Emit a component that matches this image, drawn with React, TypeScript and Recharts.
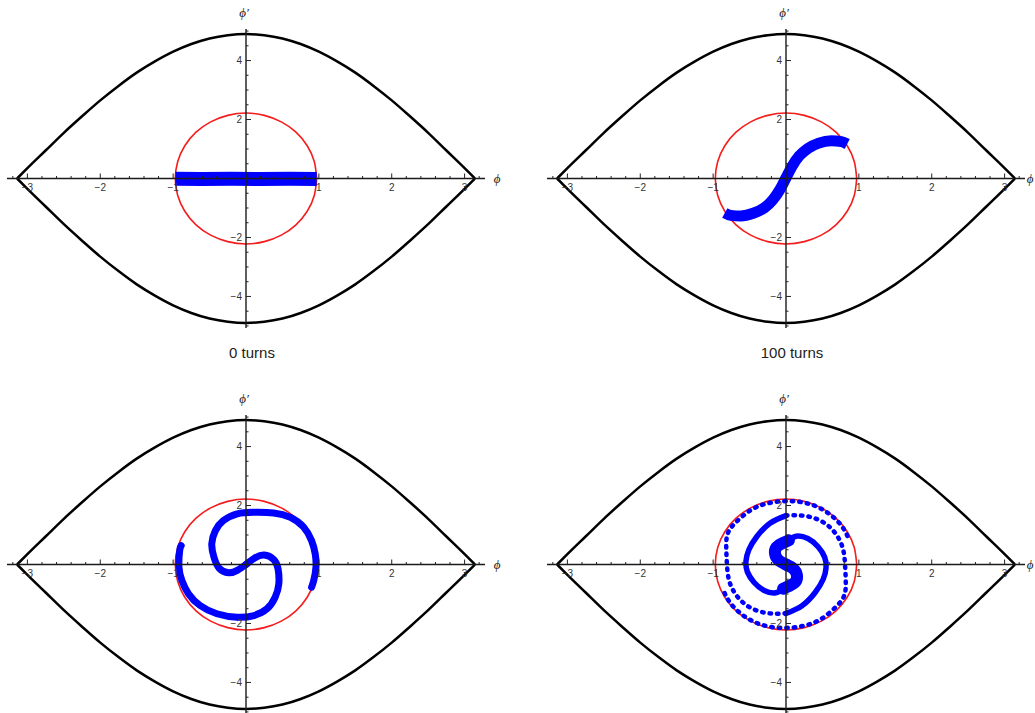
import React from 'react';
import { ComposedChart, Line, XAxis, YAxis } from 'recharts';

// axes
const X_DOMAIN: [number, number] = [-3.28, 3.28];
const Y_DOMAIN: [number, number] = [-5.07, 5.07];
const X_TICKS = [
  -3.2, -3, -2.8, -2.6, -2.4, -2.2, -2, -1.8, -1.6, -1.4, -1.2, -1, -0.8, -0.6, -0.4, -0.2, 0,
  0.2, 0.4, 0.6, 0.8, 1, 1.2, 1.4, 1.6, 1.8, 2, 2.2, 2.4, 2.6, 2.8, 3, 3.2,
];
const X_MAJOR = [-3, -2, -1, 1, 2, 3];
const Y_TICKS = [-5, -4.5, -4, -3.5, -3, -2.5, -2, -1.5, -1, -0.5, 0, 0.5, 1, 1.5, 2, 2.5, 3, 3.5, 4, 4.5, 5];
const Y_MAJOR = [-4, -2, 2, 4];

// separatrix
const SEP_X = [
  -3.1416, -3, -2.75, -2.5, -2.25, -2, -1.75, -1.5, -1.25, -1, -0.75, -0.5, -0.25, 0,
  0.25, 0.5, 0.75, 1, 1.25, 1.5, 1.75, 2, 2.25, 2.5, 2.75, 3, 3.1416,
];
const SEP_UPPER = [
  0, 0.35, 0.95, 1.55, 2.11, 2.65, 3.14, 3.59, 3.97, 4.3, 4.56, 4.75, 4.86, 4.9,
  4.86, 4.75, 4.56, 4.3, 3.97, 3.59, 3.14, 2.65, 2.11, 1.55, 0.95, 0.35, 0,
];
const SEP_LOWER = [
  0, -0.35, -0.95, -1.55, -2.11, -2.65, -3.14, -3.59, -3.97, -4.3, -4.56, -4.75, -4.86, -4.9,
  -4.86, -4.75, -4.56, -4.3, -3.97, -3.59, -3.14, -2.65, -2.11, -1.55, -0.95, -0.35, 0,
];

// red bucket contour
const RING_X = [
  0.97, 0.937, 0.84, 0.686, 0.485, 0.251, 0, -0.251, -0.485, -0.686, -0.84, -0.937, -0.97,
  -0.937, -0.84, -0.686, -0.485, -0.251, 0, 0.251, 0.485, 0.686, 0.84, 0.937, 0.97,
];
const RING_Y = [
  0, 0.575, 1.11, 1.57, 1.92, 2.14, 2.22, 2.14, 1.92, 1.57, 1.11, 0.575, 0,
  -0.575, -1.11, -1.57, -1.92, -2.14, -2.22, -2.14, -1.92, -1.57, -1.11, -0.575, 0,
];

// 0 turns
const T0_X = [-0.97, -0.6, -0.2, 0.2, 0.6, 0.97];
const T0_Y = [-0.01, -0.02, -0.01, -0.02, -0.01, -0.02];

// 100 turns
const T100_X = [-0.84, -0.76, -0.62, -0.45, -0.3, -0.18, -0.08, 0, 0.08, 0.18, 0.3, 0.45, 0.62, 0.76, 0.84];
const T100_Y = [-1.17, -1.25, -1.27, -1.18, -1.0, -0.72, -0.36, 0.02, 0.4, 0.76, 1.02, 1.2, 1.28, 1.25, 1.17];

// bottom left
const BL_A_X = [0, -0.12, -0.24, -0.37, -0.44, -0.47, -0.42, -0.31, -0.12, 0.11, 0.38, 0.61, 0.79, 0.9, 0.95, 0.96, 0.93, 0.9];
const BL_A_Y = [0, -0.2, -0.28, -0.12, 0.25, 0.7, 1.15, 1.49, 1.72, 1.77, 1.75, 1.6, 1.27, 0.81, 0.36, -0.09, -0.54, -0.77];
const BL_B_X = [0, 0.12, 0.25, 0.38, 0.44, 0.45, 0.4, 0.29, 0.11, -0.12, -0.4, -0.63, -0.79, -0.88, -0.92, -0.91, -0.89];
const BL_B_Y = [0, 0.22, 0.32, 0.17, -0.15, -0.66, -1.11, -1.5, -1.73, -1.79, -1.67, -1.39, -0.99, -0.54, -0.09, 0.47, 0.64];

// bottom right
const BR_A_CORE_X = [0, -0.1, -0.15, -0.13, -0.05, 0.04];
const BR_A_CORE_Y = [0, 0.14, 0.36, 0.59, 0.72, 0.82];
const BR_B_CORE_X = [0, 0.1, 0.15, 0.13, 0.05, -0.04];
const BR_B_CORE_Y = [0, -0.14, -0.36, -0.59, -0.72, -0.82];
const BR_A_INNER_X = [0.04, 0.14, 0.3, 0.44, 0.53, 0.55, 0.51, 0.4, 0.22, 0];
const BR_A_INNER_Y = [0.82, 0.96, 0.88, 0.6, 0.25, -0.1, -0.5, -0.95, -1.4, -1.66];
const BR_B_INNER_X = [-0.04, -0.14, -0.3, -0.44, -0.53, -0.55, -0.51, -0.4, -0.22, 0];
const BR_B_INNER_Y = [-0.82, -0.96, -0.88, -0.6, -0.25, 0.1, 0.5, 0.95, 1.4, 1.66];
const BR_A_OUTER_X = [0, -0.25, -0.5, -0.68, -0.78, -0.81, -0.82, -0.8, -0.68, -0.48, -0.24, 0.05, 0.34, 0.58, 0.76, 0.86];
const BR_A_OUTER_Y = [-1.66, -1.65, -1.45, -1.05, -0.55, 0, 0.55, 1.05, 1.45, 1.85, 2.08, 2.15, 2.04, 1.74, 1.32, 0.88];
const BR_B_OUTER_X = [0, 0.25, 0.5, 0.68, 0.78, 0.81, 0.82, 0.8, 0.68, 0.48, 0.24, -0.05, -0.34, -0.58, -0.76, -0.86];
const BR_B_OUTER_Y = [1.66, 1.65, 1.45, 1.05, 0.55, 0, -0.55, -1.05, -1.45, -1.85, -2.08, -2.15, -2.04, -1.74, -1.32, -0.88];

const W = 540;
const H = 386;
// axes take 1px each (a 0px axis is not drawn)
const MARGIN = { top: 29, right: 55, bottom: 57, left: 6 };
const PLOT_LEFT = MARGIN.left + 1;
const PLOT_W = W - PLOT_LEFT - MARGIN.right;
const PLOT_H = H - MARGIN.top - MARGIN.bottom - 1;
const ZERO_X = PLOT_LEFT + (PLOT_W * (0 - X_DOMAIN[0])) / (X_DOMAIN[1] - X_DOMAIN[0]);
const ZERO_Y = MARGIN.top + (PLOT_H * Y_DOMAIN[1]) / (Y_DOMAIN[1] - Y_DOMAIN[0]);

const BLUE = '#0000ff';
const LABEL_FONT = '"Liberation Sans", Arial, sans-serif';

const pts = (xs: number[], ys: number[]) => xs.map((x, i) => ({ x, y: ys[i] }));
const fmt = (v: number) => (v < 0 ? `\u2212${Math.abs(v)}` : `${v}`);

type Trace = {
  xs: number[];
  ys: number[];
  color: string;
  width: number;
  curve: 'linear' | 'monotone' | 'natural';
  dash?: string;
  cap?: 'butt' | 'round';
};

const BASE: Trace[] = [
  { xs: SEP_X, ys: SEP_UPPER, color: '#000', width: 2.5, curve: 'monotone' },
  { xs: SEP_X, ys: SEP_LOWER, color: '#000', width: 2.5, curve: 'monotone' },
  { xs: RING_X, ys: RING_Y, color: '#f51c1c', width: 1.6, curve: 'natural' },
];

const PANELS: { left: number; top: number; phiX: number; title?: string; traces: Trace[] }[] = [
  {
    left: 0, top: 0, phiX: 497, title: '0 turns',
    traces: [{ xs: T0_X, ys: T0_Y, color: BLUE, width: 14, curve: 'linear' }],
  },
  {
    left: 540, top: 0, phiX: 490, title: '100 turns',
    traces: [{ xs: T100_X, ys: T100_Y, color: BLUE, width: 11, curve: 'monotone' }],
  },
  {
    left: 0, top: 386, phiX: 497,
    traces: [
      { xs: BL_A_X, ys: BL_A_Y, color: BLUE, width: 7, curve: 'natural', cap: 'round' },
      { xs: BL_B_X, ys: BL_B_Y, color: BLUE, width: 7, curve: 'natural', cap: 'round' },
    ],
  },
  {
    left: 540, top: 386, phiX: 490,
    traces: [
      { xs: BR_A_CORE_X, ys: BR_A_CORE_Y, color: BLUE, width: 12, curve: 'natural', cap: 'round' },
      { xs: BR_B_CORE_X, ys: BR_B_CORE_Y, color: BLUE, width: 12, curve: 'natural', cap: 'round' },
      { xs: BR_A_INNER_X, ys: BR_A_INNER_Y, color: BLUE, width: 5.5, curve: 'natural', cap: 'round' },
      { xs: BR_B_INNER_X, ys: BR_B_INNER_Y, color: BLUE, width: 5.5, curve: 'natural', cap: 'round' },
      { xs: BR_A_OUTER_X, ys: BR_A_OUTER_Y, color: BLUE, width: 4.5, curve: 'natural', cap: 'round', dash: '1.5 6' },
      { xs: BR_B_OUTER_X, ys: BR_B_OUTER_Y, color: BLUE, width: 4.5, curve: 'natural', cap: 'round', dash: '1.5 6' },
    ],
  },
];

const AXIS_H = [{ x: X_DOMAIN[0], y: 0 }, { x: X_DOMAIN[1], y: 0 }];
const AXIS_V = [{ x: 0, y: Y_DOMAIN[0] }, { x: 0, y: Y_DOMAIN[1] }];

function XTick(props: any) {
  const { x, payload } = props;
  const v = payload.value;
  const major = X_MAJOR.includes(v);
  return (
    <g>
      <line x1={x} x2={x} y1={ZERO_Y} y2={ZERO_Y - (major ? 5 : 2.5)} stroke="#222" strokeWidth={1} />
      {major && (
        <text x={x} y={ZERO_Y + 12} textAnchor="middle" fontSize={10} fill="#333" fontFamily={LABEL_FONT}>
          {fmt(v)}
        </text>
      )}
    </g>
  );
}

function YTick(props: any) {
  const { y, payload } = props;
  const v = payload.value;
  const major = Y_MAJOR.includes(v);
  return (
    <g>
      <line x1={ZERO_X} x2={ZERO_X + (major ? 5 : 2.5)} y1={y} y2={y} stroke="#222" strokeWidth={1} />
      {major && (
        <text x={ZERO_X - 4} y={y + 3.5} textAnchor="end" fontSize={10} fill="#333" fontFamily={LABEL_FONT}>
          {fmt(v)}
        </text>
      )}
    </g>
  );
}

function Panel({ left, top, phiX, title, traces }: { left: number; top: number; phiX: number; title?: string; traces: Trace[] }) {
  const all = [...BASE, ...traces];
  return (
    <div style={{ position: 'absolute', left, top, width: W, height: H }}>
      <ComposedChart width={W} height={H} margin={MARGIN}>
        <XAxis
          type="number" dataKey="x" domain={X_DOMAIN} ticks={X_TICKS} interval={0}
          allowDataOverflow height={1} tickSize={0} tickMargin={0}
          axisLine={false} tickLine={false}
          tick={(p: any) => <XTick x={p.x} payload={p.payload} />}
        />
        <YAxis
          type="number" dataKey="y" domain={Y_DOMAIN} ticks={Y_TICKS} interval={0}
          allowDataOverflow width={1} tickSize={0} tickMargin={0}
          axisLine={false} tickLine={false}
          tick={(p: any) => <YTick y={p.y} payload={p.payload} />}
        />
        {all.map((t, i) => (
          <Line
            key={i}
            data={pts(t.xs, t.ys)}
            dataKey="y"
            type={t.curve}
            stroke={t.color}
            strokeWidth={t.width}
            strokeDasharray={t.dash}
            strokeLinecap={t.cap ?? 'butt'}
            dot={false}
            activeDot={false}
            isAnimationActive={false}
          />
        ))}
        <Line data={AXIS_H} dataKey="y" type="linear" stroke="#1a1a1a" strokeWidth={1.4} dot={false} activeDot={false} isAnimationActive={false} />
        <Line data={AXIS_V} dataKey="y" type="linear" stroke="#1a1a1a" strokeWidth={1.4} dot={false} activeDot={false} isAnimationActive={false} />
      </ComposedChart>
      <div style={{ position: 'absolute', left: 233, top: 5, width: 22, textAlign: 'center', fontFamily: '"Liberation Serif", serif', fontStyle: 'italic', fontSize: 13, color: '#222' }}>
        ϕ′
      </div>
      <div style={{ position: 'absolute', left: phiX - 8, top: 171, width: 16, textAlign: 'center', fontFamily: '"Liberation Serif", serif', fontStyle: 'italic', fontSize: 13, color: '#222' }}>
        ϕ
      </div>
      {title && (
        <div style={{ position: 'absolute', left: 152, top: 344, width: 200, textAlign: 'center', fontFamily: LABEL_FONT, fontSize: 15, color: '#222' }}>
          {title}
        </div>
      )}
    </div>
  );
}

export default function App() {
  return (
    <div style={{ position: 'absolute', left: 0, top: 0, width: 1035, height: 713, overflow: 'hidden', background: '#fff' }}>
      {PANELS.map((p, i) => (
        <Panel key={i} {...p} />
      ))}
    </div>
  );
}
